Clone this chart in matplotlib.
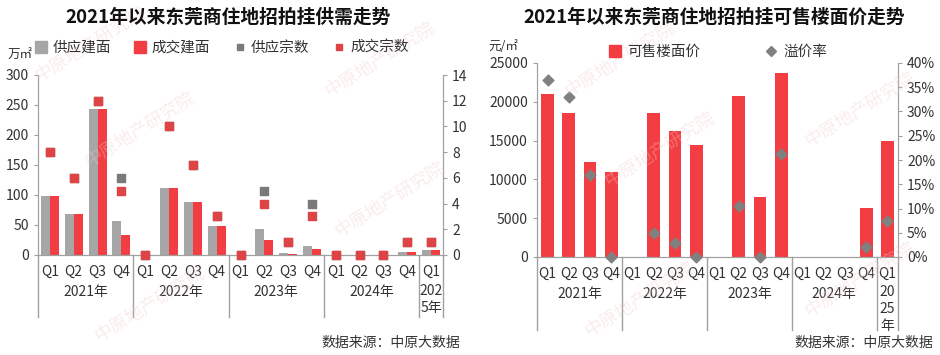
import numpy as np
import matplotlib
matplotlib.use('Agg')
import matplotlib.pyplot as plt
from matplotlib.patches import Patch
from matplotlib.lines import Line2D

plt.rcParams['font.family'] = ['Noto Sans CJK SC', 'DejaVu Sans']

# data
quarters = ['Q1', 'Q2', 'Q3', 'Q4'] * 4 + ['Q1']
years = ['2021年', '2022年', '2023年', '2024年']
supply_area = [98, 68, 244, 57, 0, 111, 88, 48, 0, 43, 3, 15, 0, 0, 0, 5, 8]
deal_area = [98, 68, 244, 33, 0, 111, 88, 48, 0, 25, 2, 10, 0, 0, 0, 5, 8]
supply_cnt = [8, 6, 12, 6, 0, 10, 7, 3, 0, 5, 1, 4, 0, 0, 0, 1, 1]
deal_cnt = [8, 6, 12, 5, 0, 10, 7, 3, 0, 4, 1, 3, 0, 0, 0, 1, 1]
price = [21000, 18500, 12200, 10900, 0, 18500, 16200, 14400, 0, 20800, 7700, 23700, 0, 0, 0, 6300, 15000]
premium = [36.5, 33, 17, 0, None, 5, 2.8, 0, None, 10.5, 0, 21.3, None, None, None, 2, 7.5]

GREY = '#A6A6A6'
RED = '#F23D42'
DGREY = '#7A7A7A'
DRED = '#DE4446'
AXC = '#A0A0A0'
TXT = '#333333'

W, H = 940, 355
fig = plt.figure(figsize=(9.4, 3.55), dpi=100)


def px_axes(x0, y0, x1, y1):
    return fig.add_axes([x0 / W, 1 - y1 / H, (x1 - x0) / W, (y1 - y0) / H])


def style(ax, ax2):
    for a in (ax, ax2):
        a.spines['top'].set_visible(False)
        for s in ('left', 'right', 'bottom'):
            a.spines[s].set_color(AXC)
        a.tick_params(colors=TXT, labelsize=10, length=3, color=AXC)
    ax.tick_params(axis='x', length=0, pad=7)


def categories(ax, low, ylab, wrap):
    x = np.arange(len(quarters))
    ax.set_xticks(x)
    ax.set_xticklabels(quarters)
    ax.set_xlim(-0.5, len(quarters) - 0.5)
    trans = ax.get_xaxis_transform()
    for b in [-0.5, 3.5, 7.5, 11.5, 15.5, 16.5]:
        ax.plot([b, b], [0, low], color=AXC, lw=1, transform=trans, clip_on=False)
    for i, yr in enumerate(years):
        ax.text(i * 4 + 1.5, ylab, yr, transform=trans,
                ha='center', va='center', fontsize=10, color=TXT)
    ax.text(16, ylab + 0.045, wrap, transform=trans, ha='center',
            va='top', fontsize=10, color=TXT, linespacing=1.25)


# ---- left chart ----
ax = px_axes(38, 75, 443, 255)
ax2 = ax.twinx()
x = np.arange(len(quarters))
ax.bar(x - 0.19, supply_area, width=0.38, color=GREY)
ax.bar(x + 0.19, deal_area, width=0.38, color=RED)
ax.set_ylim(0, 300)
ax.set_yticks(range(0, 301, 50))
ax2.scatter(x, supply_cnt, marker='s', s=26, color=DGREY, zorder=3, clip_on=False)
ax2.scatter(x, deal_cnt, marker='s', s=26, color=DRED, zorder=4, clip_on=False)
ax2.set_ylim(0, 14)
ax2.set_yticks(range(0, 15, 2))
style(ax, ax2)
categories(ax, -0.345, -0.205, '202\n5年')

handles = [Patch(color=GREY), Patch(color=RED),
           Line2D([], [], ls='', marker='s', ms=5, color=DGREY),
           Line2D([], [], ls='', marker='s', ms=5, color=DRED)]
fig.legend(handles, ['供应建面', '成交建面', '供应宗数', '成交宗数'], ncol=4,
           loc='center', bbox_to_anchor=(222 / W, 1 - 48 / H), frameon=False,
           fontsize=10.5, handlelength=0.8, handleheight=0.8, handletextpad=0.4,
           columnspacing=1.6, labelcolor=TXT)
fig.text(228 / W, 1 - 17 / H, '2021年以来东莞商住地招拍挂供需走势', ha='center',
         va='center', fontsize=13.5, fontweight='bold', color='#111111')
fig.text(8 / W, 1 - 55 / H, '万㎡', ha='left', va='center', fontsize=9, color=TXT)
fig.text(460 / W, 1 - 343 / H, '数据来源：中原大数据', ha='right', va='center',
         fontsize=10, color=TXT)

# ---- right chart ----
bx = px_axes(537, 63, 898, 257)
bx2 = bx.twinx()
bx.bar(x, price, width=0.6, color=RED)
bx.set_ylim(0, 25000)
bx.set_yticks(range(0, 25001, 5000))
px = [i for i, v in enumerate(premium) if v is not None]
pv = [v for v in premium if v is not None]
bx2.scatter(px, pv, marker='D', s=30, color='#808080', zorder=3, clip_on=False)
bx2.set_ylim(0, 40)
bx2.set_yticks(range(0, 41, 5))
bx2.set_yticklabels([f'{v}%' for v in range(0, 41, 5)])
style(bx, bx2)
categories(bx, -0.378, -0.19, '20\n25\n年')

handles = [Patch(color=RED), Line2D([], [], ls='', marker='D', ms=5, color='#808080')]
fig.legend(handles, ['可售楼面价', '溢价率'], ncol=2, loc='center',
           bbox_to_anchor=(718 / W, 1 - 52 / H), frameon=False, fontsize=10.5,
           handlelength=0.8, handleheight=0.8, handletextpad=0.4,
           columnspacing=4.5, labelcolor=TXT)
fig.text(714 / W, 1 - 17 / H, '2021年以来东莞商住地招拍挂可售楼面价走势', ha='center',
         va='center', fontsize=13.5, fontweight='bold', color='#111111')
fig.text(488 / W, 1 - 46 / H, '元/㎡', ha='left', va='center', fontsize=9, color=TXT)
fig.text(933 / W, 1 - 343 / H, '数据来源：中原大数据', ha='right', va='center',
         fontsize=10, color=TXT)

# watermark
for wx, wy in [(90, 45), (140, 130), (380, 60), (390, 200), (150, 305), (620, 60),
               (660, 150), (860, 110), (640, 300), (860, 280)]:
    fig.text(wx / W, 1 - wy / H, '中原地产研究院', ha='center', va='center', rotation=32,
             fontsize=13, color='#F2C8C8', alpha=0.35, zorder=0)

fig.savefig('out.png', dpi=100)
